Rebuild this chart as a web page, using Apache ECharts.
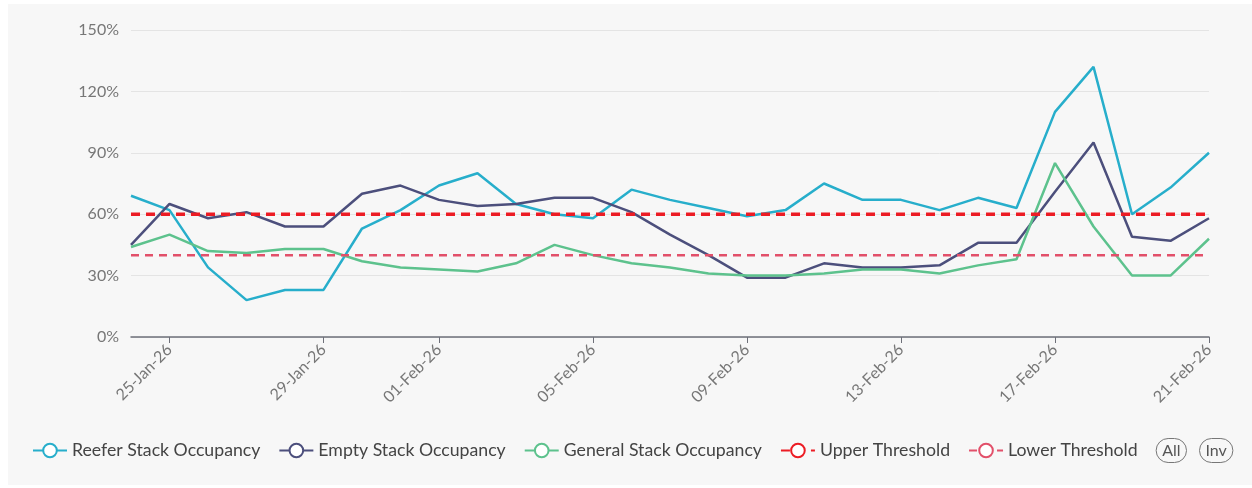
<!DOCTYPE html>
<html>
<head>
<meta charset="utf-8">
<script src="https://cdn.jsdelivr.net/npm/echarts@6/dist/echarts.min.js"></script>
<style>
  html, body { margin: 0; padding: 0; background: #ffffff; }
  #chart { position: absolute; left: 8px; top: 4px; width: 1244px; height: 481px; background: #f7f7f7; }
</style>
</head>
<body>
<div id="chart"></div>
<script>
const categories = ['24-Jan-26','25-Jan-26','26-Jan-26','27-Jan-26','28-Jan-26','29-Jan-26','30-Jan-26','31-Jan-26',
  '01-Feb-26','02-Feb-26','03-Feb-26','04-Feb-26','05-Feb-26','06-Feb-26','07-Feb-26','08-Feb-26','09-Feb-26',
  '10-Feb-26','11-Feb-26','12-Feb-26','13-Feb-26','14-Feb-26','15-Feb-26','16-Feb-26','17-Feb-26','18-Feb-26',
  '19-Feb-26','20-Feb-26','21-Feb-26'];
const labelIndices = [1, 5, 8, 12, 16, 20, 24, 28];

const reefer  = [69, 62, 34, 18, 23, 23, 53, 62, 74, 80, 65, 60, 58, 72, 67, 63, 59, 62, 75, 67, 67, 62, 68, 63, 110, 132, 60, 73, 90];
const empty   = [45, 65, 58, 61, 54, 54, 70, 74, 67, 64, 65, 68, 68, 61, 50, 40, 29, 29, 36, 34, 34, 35, 46, 46, 71, 95, 49, 47, 58];
const general = [44, 50, 42, 41, 43, 43, 37, 34, 33, 32, 36, 45, 40, 36, 34, 31, 30, 30, 31, 33, 33, 31, 35, 38, 85, 54, 30, 30, 48];
const upperThreshold = [60,60,60,60,60,60,60,60,60,60,60,60,60,60,60,60,60,60,60,60,60,60,60,60,60,60,60,60,60];
const lowerThreshold = [40,40,40,40,40,40,40,40,40,40,40,40,40,40,40,40,40,40,40,40,40,40,40,40,40,40,40,40,40];

const FONT = 'Lato, "Open Sans", sans-serif';
const chart = echarts.init(document.getElementById('chart'), null, { renderer: 'canvas' });

function lineSeries(name, data, color, width, dash) {
  return {
    name, type: 'line', data,
    showSymbol: false, symbol: 'emptyCircle', symbolSize: 8,
    itemStyle: { color },
    lineStyle: { color, width, type: dash || 'solid' },
    emphasis: { disabled: true }
  };
}

chart.setOption({
  animation: false,
  backgroundColor: '#f7f7f7',
  color: ['#27aecb', '#4c4f7c', '#5dc28d', '#ec1c24', '#e2506a'],
  grid: { left: 123, right: 43, top: 26, bottom: 148, containLabel: false },
  textStyle: { fontFamily: FONT },
  legend: {
    left: 19, top: 429,
    itemWidth: 34, itemHeight: 17, itemGap: 18,
    itemStyle: { borderWidth: 2.5 },
    textStyle: { fontFamily: FONT, fontSize: 17.7, color: '#444' },
    selector: [{ type: 'all', title: 'All' }, { type: 'inverse', title: 'Inv' }],
    selectorLabel: { fontFamily: FONT, fontSize: 16, color: '#555', borderColor: '#777', borderRadius: 13, padding: [4, 6, 4, 6] },
    selectorItemGap: 12, selectorButtonGap: 18
  },
  xAxis: {
    type: 'category', data: categories, boundaryGap: false,
    axisLine: { lineStyle: { color: '#6e7079', width: 1.5 } },
    axisTick: { show: true, length: 6, interval: (i) => labelIndices.includes(i), lineStyle: { color: '#6e7079' } },
    axisLabel: { rotate: 45, interval: (i) => labelIndices.includes(i), fontFamily: FONT, fontSize: 16, color: '#777', margin: 10 }
  },
  yAxis: {
    type: 'value', min: 0, max: 150, interval: 30,
    axisLabel: { formatter: '{value}%', fontFamily: FONT, fontSize: 16, color: '#777', margin: 12 },
    splitLine: { lineStyle: { color: '#e4e4e4' } },
    axisLine: { show: false }, axisTick: { show: false }
  },
  series: [
    lineSeries('Reefer Stack Occupancy', reefer, '#27aecb', 2.5),
    lineSeries('Empty Stack Occupancy', empty, '#4c4f7c', 2.5),
    lineSeries('General Stack Occupancy', general, '#5dc28d', 2.5),
    lineSeries('Upper Threshold', upperThreshold, '#ec1c24', 3.5, [9, 6]),
    lineSeries('Lower Threshold', lowerThreshold, '#e2506a', 2.5, [8, 6])
  ]
});
</script>
</body>
</html>
